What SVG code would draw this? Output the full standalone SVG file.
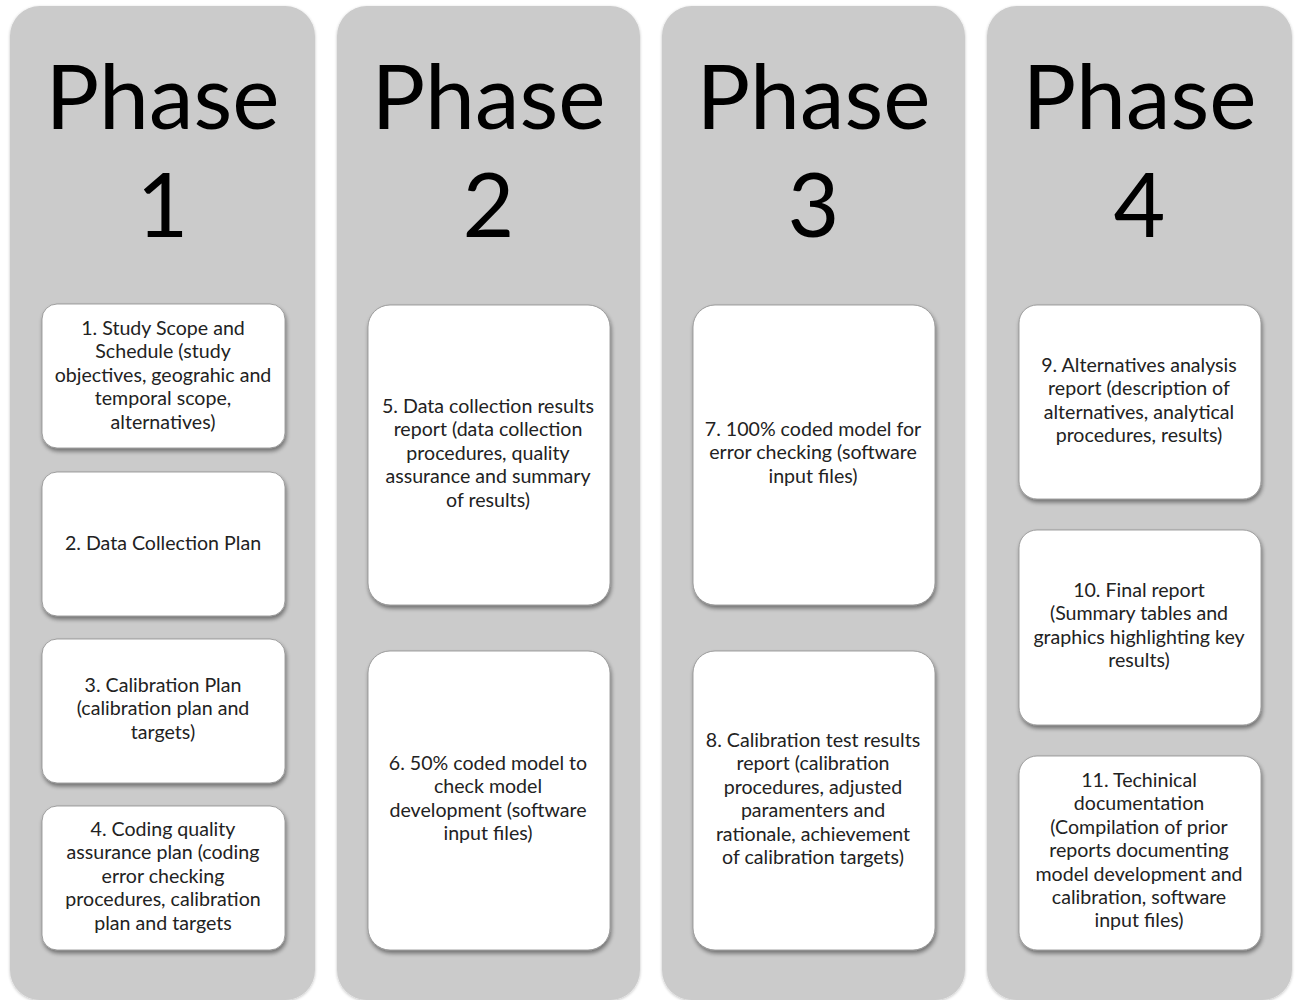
<svg xmlns="http://www.w3.org/2000/svg" width="1299" height="1000" viewBox="0 0 1299 1000">
<style>
.panel{fill:#cbcbcb;}
.box{fill:#ffffff;stroke:#8a8a8a;stroke-width:0.8;filter:url(#sh);}
.ph{font-family:Lato,"Open Sans",sans-serif;font-size:89.5px;fill:#000;text-anchor:middle;}
.t{font-family:Lato,"Open Sans",sans-serif;font-size:19.6px;fill:#222;text-anchor:middle;}
</style>
<defs>
<filter id="sh" x="-10%" y="-10%" width="130%" height="130%">
<feGaussianBlur in="SourceAlpha" stdDeviation="2"/>
<feOffset dx="1" dy="3" result="b"/>
<feComponentTransfer><feFuncA type="linear" slope="0.45"/></feComponentTransfer>
<feMerge><feMergeNode/><feMergeNode in="SourceGraphic"/></feMerge>
</filter>
<filter id="psh" x="-5%" y="-5%" width="110%" height="110%">
<feGaussianBlur in="SourceAlpha" stdDeviation="1.5"/>
<feOffset dx="0" dy="1"/>
<feComponentTransfer><feFuncA type="linear" slope="0.25"/></feComponentTransfer>
<feMerge><feMergeNode/><feMergeNode in="SourceGraphic"/></feMerge>
</filter>
</defs>
<rect width="1299" height="1000" fill="#ffffff"/>

<g id="phase1">
<rect class="panel" x="10" y="6" width="305" height="994" rx="30" filter="url(#psh)"/>
<text class="ph" x="162.5" y="129">Phase</text>
<text class="ph" x="162.5" y="237">1</text>
</g>
<g id="phase2">
<rect class="panel" x="337" y="6" width="303" height="994" rx="30" filter="url(#psh)"/>
<text class="ph" x="488.5" y="129">Phase</text>
<text class="ph" x="488.5" y="237">2</text>
</g>
<g id="phase3">
<rect class="panel" x="662" y="6" width="303" height="994" rx="30" filter="url(#psh)"/>
<text class="ph" x="813.5" y="129">Phase</text>
<text class="ph" x="813.5" y="237">3</text>
</g>
<g id="phase4">
<rect class="panel" x="987" y="6" width="305" height="994" rx="30" filter="url(#psh)"/>
<text class="ph" x="1139.5" y="129">Phase</text>
<text class="ph" x="1139.5" y="237">4</text>
</g>

<g id="n1">
<rect class="box" x="42" y="304" width="243" height="144" rx="15"/>
<text class="t" x="163" y="335"><tspan x="163">1. Study Scope and</tspan><tspan x="163" dy="23.4">Schedule (study</tspan><tspan x="163" dy="23.4">objectives, geograhic and</tspan><tspan x="163" dy="23.4">temporal scope,</tspan><tspan x="163" dy="23.4">alternatives)</tspan></text>
</g>
<g id="n2">
<rect class="box" x="42" y="472" width="243" height="144" rx="15"/>
<text class="t" x="163" y="550">2. Data Collection Plan</text>
</g>
<g id="n3">
<rect class="box" x="42" y="639" width="243" height="144" rx="15"/>
<text class="t" x="163" y="692"><tspan x="163">3. Calibration Plan</tspan><tspan x="163" dy="23.4">(calibration plan and</tspan><tspan x="163" dy="23.4">targets)</tspan></text>
</g>
<g id="n4">
<rect class="box" x="42" y="806" width="243" height="144" rx="15"/>
<text class="t" x="163" y="836"><tspan x="163">4. Coding quality</tspan><tspan x="163" dy="23.4">assurance plan (coding</tspan><tspan x="163" dy="23.4">error checking</tspan><tspan x="163" dy="23.4">procedures, calibration</tspan><tspan x="163" dy="23.4">plan and targets</tspan></text>
</g>

<g id="n5">
<rect class="box" x="368" y="305" width="242" height="300" rx="22"/>
<text class="t" x="488" y="413"><tspan x="488">5. Data collection results</tspan><tspan x="488" dy="23.4">report (data collection</tspan><tspan x="488" dy="23.4">procedures, quality</tspan><tspan x="488" dy="23.4">assurance and summary</tspan><tspan x="488" dy="23.4">of results)</tspan></text>
</g>
<g id="n6">
<rect class="box" x="368" y="651" width="242" height="299" rx="22"/>
<text class="t" x="488" y="770"><tspan x="488">6. 50% coded model to</tspan><tspan x="488" dy="23.4">check model</tspan><tspan x="488" dy="23.4">development (software</tspan><tspan x="488" dy="23.4">input files)</tspan></text>
</g>

<g id="n7">
<rect class="box" x="693" y="305" width="242" height="300" rx="22"/>
<text class="t" x="813" y="436"><tspan x="813">7. 100% coded model for</tspan><tspan x="813" dy="23.4">error checking (software</tspan><tspan x="813" dy="23.4">input files)</tspan></text>
</g>
<g id="n8">
<rect class="box" x="693" y="651" width="242" height="299" rx="22"/>
<text class="t" x="813" y="747"><tspan x="813">8. Calibration test results</tspan><tspan x="813" dy="23.4">report (calibration</tspan><tspan x="813" dy="23.4">procedures, adjusted</tspan><tspan x="813" dy="23.4">paramenters and</tspan><tspan x="813" dy="23.4">rationale, achievement</tspan><tspan x="813" dy="23.4">of calibration targets)</tspan></text>
</g>

<g id="n9">
<rect class="box" x="1019" y="305" width="242" height="194" rx="18"/>
<text class="t" x="1139" y="372"><tspan x="1139">9. Alternatives analysis</tspan><tspan x="1139" dy="23.4">report (description of</tspan><tspan x="1139" dy="23.4">alternatives, analytical</tspan><tspan x="1139" dy="23.4">procedures, results)</tspan></text>
</g>
<g id="n10">
<rect class="box" x="1019" y="530" width="242" height="195" rx="18"/>
<text class="t" x="1139" y="597"><tspan x="1139">10. Final report</tspan><tspan x="1139" dy="23.4">(Summary tables and</tspan><tspan x="1139" dy="23.4">graphics highlighting key</tspan><tspan x="1139" dy="23.4">results)</tspan></text>
</g>
<g id="n11">
<rect class="box" x="1019" y="756" width="242" height="194" rx="18"/>
<text class="t" x="1139" y="787"><tspan x="1139">11. Techinical</tspan><tspan x="1139" dy="23.4">documentation</tspan><tspan x="1139" dy="23.4">(Compilation of prior</tspan><tspan x="1139" dy="23.4">reports documenting</tspan><tspan x="1139" dy="23.4">model development and</tspan><tspan x="1139" dy="23.4">calibration, software</tspan><tspan x="1139" dy="23.4">input files)</tspan></text>
</g>

<g id="connectors"></g>
</svg>
